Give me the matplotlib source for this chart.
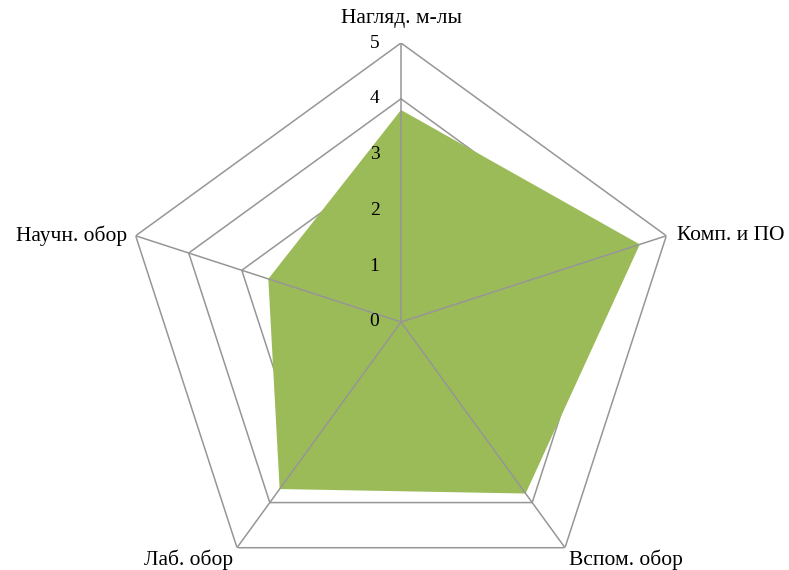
import numpy as np
import matplotlib.pyplot as plt

categories = ['Нагляд. м-лы', 'Комп. и ПО', 'Вспом. обор', 'Лаб. обор', 'Научн. обор']
values = [3.8, 4.5, 3.8, 3.7, 2.5]
rings = [1, 2, 3, 4, 5]
tick_labels = ['0', '1', '2', '3', '4', '5']

plt.rcParams['font.family'] = ['Liberation Serif', 'DejaVu Serif']

n = len(categories)
angles = np.linspace(0, 2 * np.pi, n, endpoint=False)
closed = np.append(angles, angles[0])

fig = plt.figure(figsize=(7.89, 5.70), dpi=100)
# centre at (401, 322) px, radius of 5 ~ 279 px
cx, cy, R = 401, 322, 279
ax = fig.add_axes([(cx - R) / 789, (570 - cy - R) / 570, 2 * R / 789, 2 * R / 570],
                  projection='polar')
ax.set_theta_offset(np.pi / 2)
ax.set_theta_direction(-1)
ax.set_ylim(0, 5)
ax.axis('off')

grid_col = '#969696'
for r in rings:
    ax.plot(closed, [r] * (n + 1), color=grid_col, lw=1.1, zorder=1)

vals = np.append(values, values[0])
ax.fill(closed, vals, color='#9bbb59', zorder=2, lw=0)

for a in angles:
    ax.plot([a, a], [0, 5], color=grid_col, lw=1.1, zorder=3)

for i, t in enumerate(tick_labels):
    ax.annotate(t, xy=(0, i), xytext=(-19, 0), textcoords='offset points',
                ha='center', va='center', fontsize=14, zorder=4)

# category labels
offsets = [((0, 11), 'center', 'bottom'),
           ((8, 0), 'left', 'center'),
           ((3, -1), 'left', 'top'),
           ((-3, -1), 'right', 'top'),
           ((-6.5, 0), 'right', 'center')]
for a, lab, (off, ha, va) in zip(angles, categories, offsets):
    ax.annotate(lab, xy=(a, 5), xytext=off, textcoords='offset points',
                ha=ha, va=va, fontsize=15.5, annotation_clip=False)

fig.savefig('out.png', dpi=100)
